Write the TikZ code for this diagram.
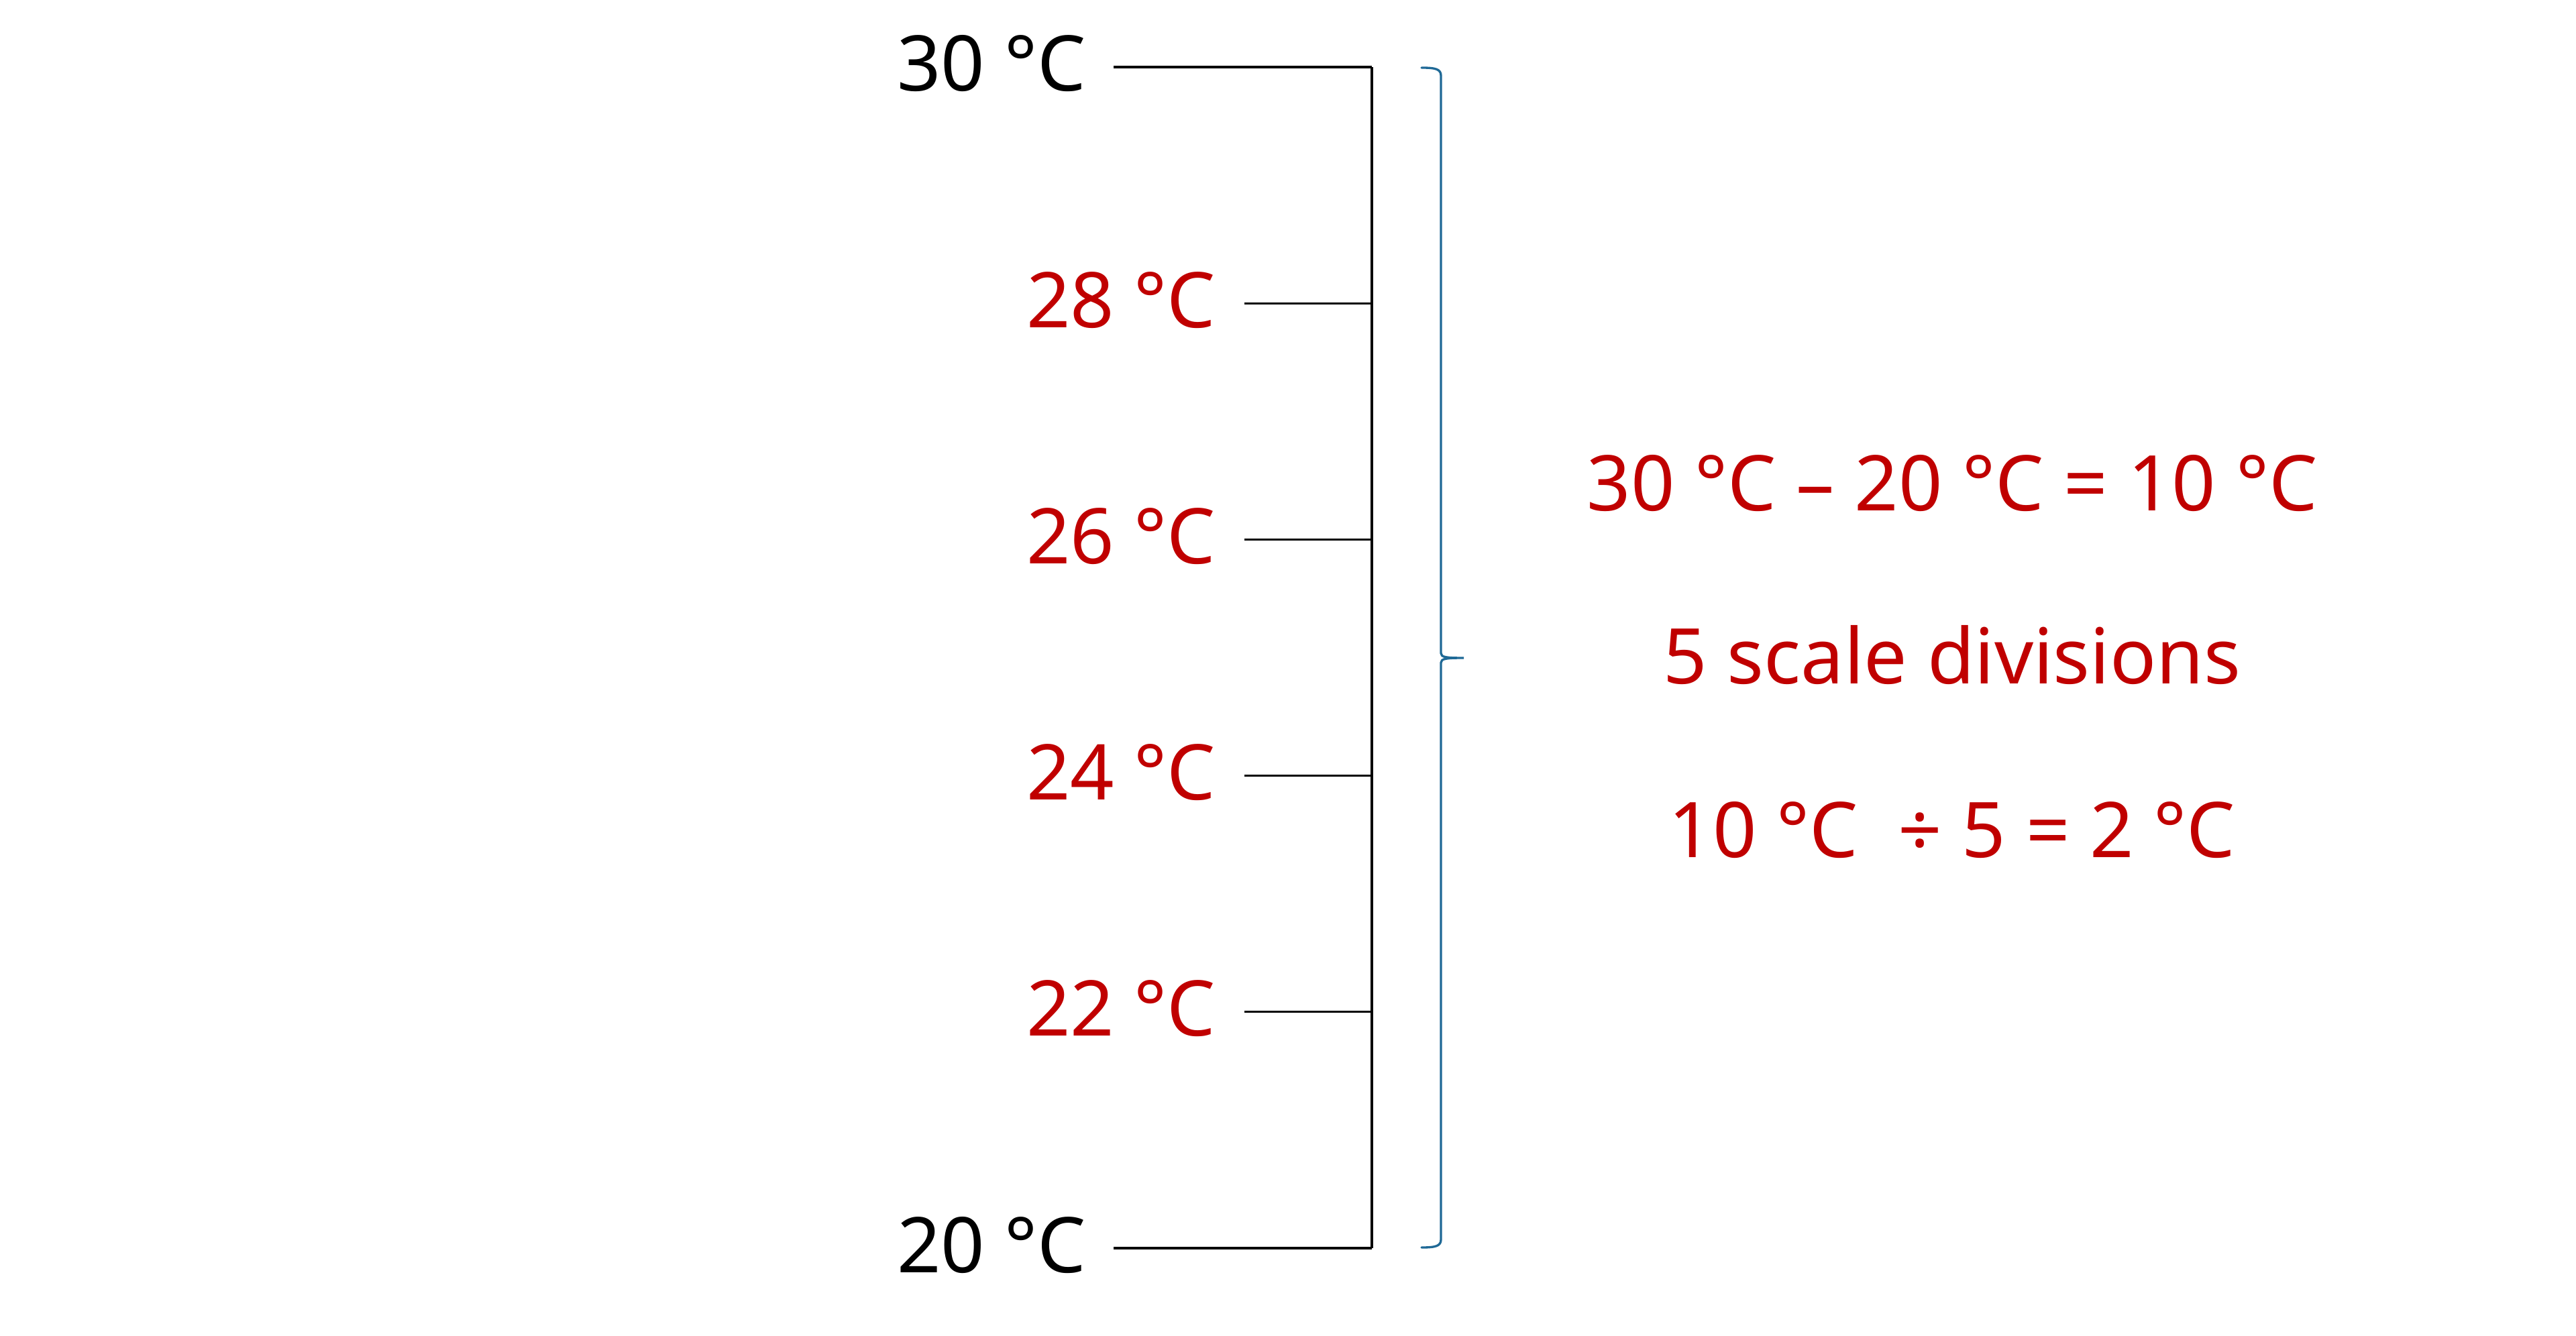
\documentclass[tikz,border=0pt]{standalone}
\usepackage{fontspec}
\setmainfont{Noto Sans}
\usetikzlibrary{positioning}
\definecolor{scalered}{RGB}{192,0,0}
\definecolor{braceblue}{RGB}{31,105,150}

\begin{document}
\begin{tikzpicture}[scale=1.0,
        lbl/.style={font=\fontsize{32.6}{39}\selectfont,inner sep=0pt,anchor=base east},
        calc/.style={font=\fontsize{32.6}{39}\selectfont,inner sep=0pt,anchor=base,scalered},
        tick/.style={line width=0.95pt},
        bracket/.style={braceblue,line width=0.95pt,line cap=round}]
        \useasboundingbox (0,0) rectangle (38.4,19.91);
        % scale line
        \coordinate (top) at (20.45,18.91);
        \coordinate (bot) at (20.45,1.30);
        \draw[tick] (top) -- (bot);
        % end marks
        \coordinate (top0) at (16.60,18.91);
        \coordinate (bot0) at (16.60,1.30);
        \draw[tick] (top0) -- (top);
        \draw[tick] (bot0) -- (bot);
        \node[lbl] (l30) at (16.20,18.55) {30 °C};
        \node[lbl] (l20) at (16.20,0.94) {20 °C};
        % divisions
        \foreach \yy/\val in {15.388/28, 11.866/26, 8.344/24, 4.822/22} {
            \coordinate (a\val) at (18.55,\yy);
            \coordinate (b\val) at (20.45,\yy);
            \draw[tick] (a\val) -- (b\val);
            \node[lbl,scalered] (l\val) at (18.13,\yy-0.36) {\val\ °C};
        }
        % brace
        \coordinate (bt) at (21.19,18.90);
        \coordinate (bb) at (21.19,1.31);
        \coordinate (tip) at (21.82,10.10);
        \draw[bracket] (bt) .. controls (21.40,18.90) and (21.48,18.88) .. (21.48,18.78)
            -- (21.48,10.17) .. controls (21.48,10.11) and (21.56,10.10) .. (tip)
            .. controls (21.56,10.10) and (21.48,10.09) .. (21.48,10.03)
            -- (21.48,1.43) .. controls (21.48,1.33) and (21.40,1.31) .. (bb);
        \node[calc] (diff) at (29.10,12.29) {30 °C – 20 °C = 10 °C};
        \node[calc] (divs) at (29.10,9.71) {5 scale divisions};
        \node[calc] (res) at (29.10,7.13) {10 °C\ \ ÷ 5 = 2 °C};
    \end{tikzpicture}
\end{document}
